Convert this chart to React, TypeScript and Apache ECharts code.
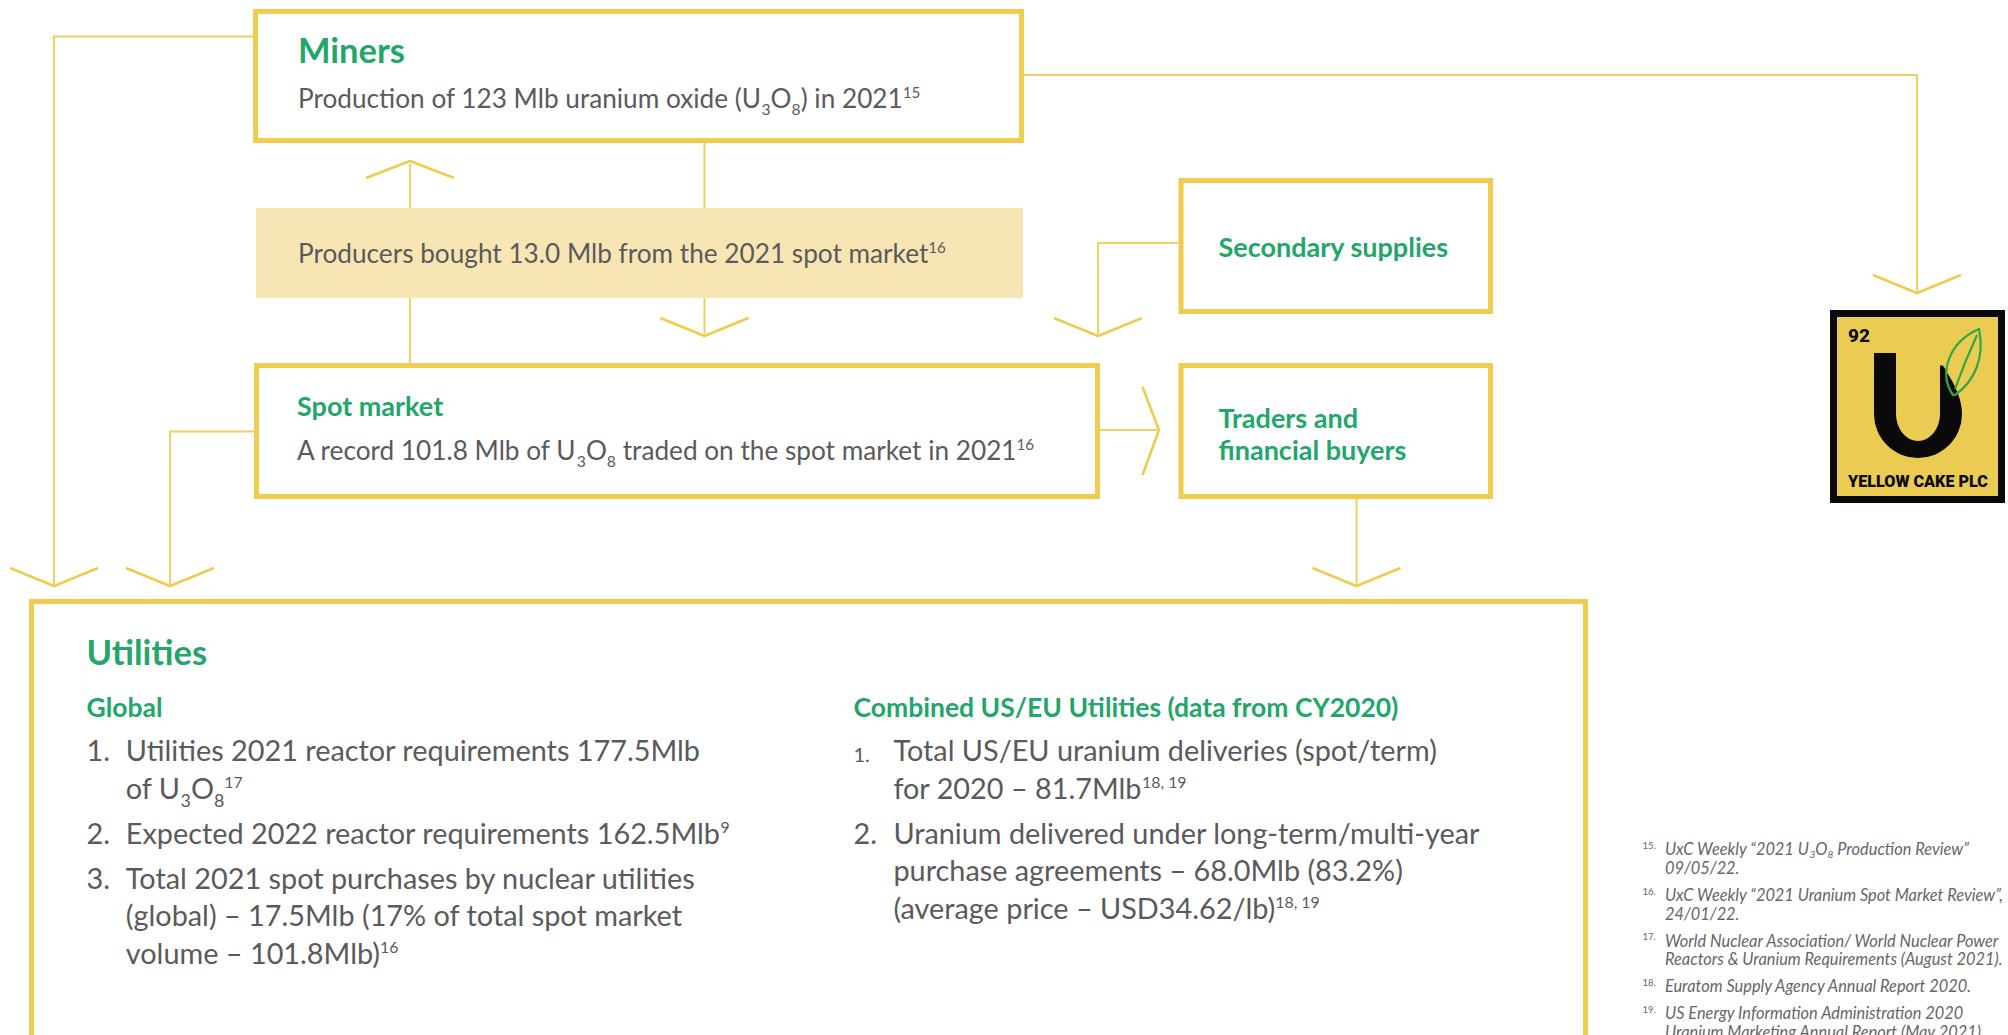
import React, { useEffect, useRef } from 'react';
import * as echarts from 'echarts';

type Kind = 'n' | 'sup' | 'sub';
type Run = [string, Kind?];

// ---------- content ----------
const minersTitle = 'Miners';
const minersText: Run[] = [['Production of 123 Mlb uranium oxide (U'], ['3', 'sub'], ['O'], ['8', 'sub'], [') in 2021'], ['15', 'sup']];
const producersText: Run[] = [['Producers bought 13.0 Mlb from the 2021 spot market'], ['16', 'sup']];
const secondaryTitle = 'Secondary supplies';
const spotTitle = 'Spot market';
const spotText: Run[] = [['A record 101.8 Mlb of U'], ['3', 'sub'], ['O'], ['8', 'sub'], [' traded on the spot market in 2021'], ['16', 'sup']];
const tradersTitle = ['Traders and', 'financial buyers'];
const utilitiesTitle = 'Utilities';
const globalTitle = 'Global';
const globalNumbers = ['1.', '2.', '3.'];
const globalItems: Run[][][] = [
  [[['Utilities 2021 reactor requirements 177.5Mlb']], [['of U'], ['3', 'sub'], ['O'], ['8', 'sub'], ['17', 'sup']]],
  [[['Expected 2022 reactor requirements 162.5Mlb'], ['9', 'sup']]],
  [[['Total 2021 spot purchases by nuclear utilities']], [['(global) – 17.5Mlb (17% of total spot market']], [['volume – 101.8Mlb)'], ['16', 'sup']]],
];
const combinedTitle = 'Combined US/EU Utilities (data from CY2020)';
const combinedNumbers = ['1.', '2.'];
const combinedItems: Run[][][] = [
  [[['Total US/EU uranium deliveries (spot/term)']], [['for 2020 – 81.7Mlb'], ['18, 19', 'sup']]],
  [[['Uranium delivered under long-term/multi-year']], [['purchase agreements – 68.0Mlb (83.2%)']], [['(average price – USD34.62/lb)'], ['18, 19', 'sup']]],
];
const footnoteNumbers = ['15.', '16.', '17.', '18.', '19.'];
const footnotes: Run[][][] = [
  [[['UxC Weekly “2021 U'], ['3', 'sub'], ['O'], ['8', 'sub'], [' Production Review”']], [['09/05/22.']]],
  [[['UxC Weekly “2021 Uranium Spot Market Review”,']], [['24/01/22.']]],
  [[['World Nuclear Association/ World Nuclear Power']], [['Reactors & Uranium Requirements (August 2021).']]],
  [[['Euratom Supply Agency Annual Report 2020.']]],
  [[['US Energy Information Administration 2020']], [['Uranium Marketing Annual Report (May 2021).']]],
];
const logoNumber = '92';
const logoName = 'YELLOW CAKE PLC';

// ---------- style ----------
const W = 2008;
const H = 1035;
const FONT = 'Lato';
const YELLOW = '#EFCB4E';
const LINE = '#F0D061';
const SHADE = '#F7E6B4';
const GREEN = '#22A66A';
const GRAY = '#5A5A5C';
const NOTE = '#666666';
const LOGO_Y = '#ECCB52';
const BASE_K = 0.4;

let mctx: CanvasRenderingContext2D | null = null;
function measure(text: string, font: string): number {
  if (!mctx) mctx = document.createElement('canvas').getContext('2d');
  if (!mctx) return text.length * 10;
  mctx.font = font;
  return mctx.measureText(text).width;
}

type TOpt = { size: number; weight?: number | string; italic?: boolean; color: string; family?: string };

function fontStr(size: number, o: { weight?: number | string; italic?: boolean; family?: string }) {
  return `${o.italic ? 'italic ' : ''}${o.weight || 400} ${size}px ${o.family || FONT}`;
}

function textEl(x: number, baseline: number, text: string, size: number, o: TOpt, extra: any = {}) {
  return {
    type: 'text',
    x,
    y: baseline - size * BASE_K,
    z: 10,
    silent: true,
    ...extra,
    style: {
      text,
      fill: o.color,
      fontSize: size,
      fontFamily: o.family || FONT,
      fontWeight: o.weight || 400,
      fontStyle: o.italic ? 'italic' : 'normal',
      textAlign: 'left',
      textVerticalAlign: 'middle',
      align: 'left',
      verticalAlign: 'middle',
    },
  };
}

function line(x: number, baseline: number, runs: Run[], o: TOpt, supK = 0.58, supRise = 0.38, subK = 0.6, subDrop = 0.24) {
  const els: any[] = [];
  let cx = x;
  for (const [t, k] of runs) {
    let size = o.size;
    let b = baseline;
    if (k === 'sup') {
      size = o.size * supK;
      b = baseline - o.size * supRise;
    } else if (k === 'sub') {
      size = o.size * subK;
      b = baseline + o.size * subDrop;
    }
    els.push(textEl(cx, b, t, size, { ...o, size }));
    cx += measure(t, fontStr(size, o));
  }
  return els;
}

function rectBox(x1: number, y1: number, x2: number, y2: number, lw = 5) {
  return {
    type: 'rect',
    z: 5,
    silent: true,
    shape: { x: x1 + lw / 2, y: y1 + lw / 2, width: x2 - x1 - lw, height: y2 - y1 - lw },
    style: { fill: '#ffffff', stroke: YELLOW, lineWidth: lw },
  };
}

function poly(points: number[][], color = LINE, lw = 2, z = 1) {
  return { type: 'polyline', z, silent: true, shape: { points }, style: { stroke: color, lineWidth: lw, fill: null } };
}

function chevronDown(cx: number, apexY: number) {
  return poly([[cx - 44, apexY - 18], [cx, apexY], [cx + 44, apexY - 18]], YELLOW, 2.6, 2);
}

const U_PATH =
  'M0 0 L22 0 L22 61 A22 27 0 0 0 66 61 L66 13 Q69 10 72 18 Q88 42 88 61 A44 44 0 0 1 0 61 Z';
const LEAF_PATH = 'M8 66 C-6 46 2 14 34 0 C40 28 30 52 10 66 Z M10 60 Q20 32 32 6';

let registered = false;
function registerShapes() {
  if (registered) return;
  registered = true;
  echarts.graphic.registerShape('logoU', echarts.graphic.extendPath(U_PATH, {}) as any);
  echarts.graphic.registerShape('logoLeaf', echarts.graphic.extendPath(LEAF_PATH, {}) as any);
}

function buildElements() {
  const els: any[] = [];
  const bodySize = 25 * 1.048;
  const itemSize = 27.5 * 1.049;
  const noteSize = 16 * 1.023;
  const body: TOpt = { size: bodySize, color: GRAY };
  const bold = (size: number): TOpt => ({ size, weight: 700, color: GREEN });

  // connectors
  els.push(poly([[253, 36.5], [54, 36.5], [54, 584]]));
  els.push(chevronDown(54, 586));
  els.push(poly([[1024, 75], [1917, 75], [1917, 291]]));
  els.push(chevronDown(1917, 293));
  els.push(poly([[410, 164], [410, 363]]));
  els.push(poly([[366, 178], [410, 161], [454, 178]], YELLOW, 2.6, 2));
  els.push(poly([[704.5, 143], [704.5, 334]]));
  els.push(chevronDown(704.5, 336));
  els.push(poly([[1178, 243], [1098, 243], [1098, 334]]));
  els.push(chevronDown(1098, 336));
  els.push(poly([[254, 431.5], [170, 431.5], [170, 584]]));
  els.push(chevronDown(170, 586));
  els.push(poly([[1100, 430], [1157, 430]]));
  els.push(poly([[1142.5, 387], [1159, 430], [1142.5, 475]], YELLOW, 2.6, 2));
  els.push(poly([[1356.5, 499], [1356.5, 584]]));
  els.push(chevronDown(1356.5, 586));

  // boxes
  els.push(rectBox(253, 9, 1024, 143));
  els.push({ type: 'rect', z: 5, silent: true, shape: { x: 256, y: 208, width: 767, height: 90 }, style: { fill: SHADE } });
  els.push(rectBox(1178.5, 178, 1493, 314));
  els.push(rectBox(254, 363, 1100, 499));
  els.push(rectBox(1178.5, 363, 1493, 499));
  els.push(rectBox(29, 599, 1588, 1120));

  // box texts
  els.push(textEl(298, 63, minersTitle, 34.5, bold(34.5)));
  els.push(...line(298, 108, minersText, body));
  els.push(...line(298, 263, producersText, body));
  els.push(textEl(1218.5, 257, secondaryTitle, 27, bold(27)));
  els.push(textEl(297, 416, spotTitle, 27, bold(27)));
  els.push(...line(297, 460, spotText, body));
  tradersTitle.forEach((t, i) => els.push(textEl(1218.5, 428 + i * 32.5, t, 27, bold(27))));

  // utilities
  els.push(textEl(86.5, 665, utilitiesTitle, 34.5, bold(34.5)));
  els.push(textEl(86.5, 718, globalTitle, 26.5, bold(26.5)));
  els.push(textEl(853.5, 718, combinedTitle, 26.5, bold(26.5)));
  const item: TOpt = { size: itemSize, color: GRAY };
  const LH = 37.5;
  const GAP = 7.5;
  let y = 762;
  globalItems.forEach((lines, i) => {
    els.push(textEl(86.5, y, globalNumbers[i], itemSize, item));
    lines.forEach((runs) => {
      els.push(...line(125.8, y, runs, item, 0.55, 0.4, 0.62, 0.26));
      y += LH;
    });
    y += GAP;
  });
  y = 762;
  combinedItems.forEach((lines, i) => {
    const ns = i === 0 ? 20 : itemSize;
    els.push(textEl(853.5, y, combinedNumbers[i], ns, { ...item, size: ns }));
    lines.forEach((runs) => {
      els.push(...line(893.4, y, runs, item, 0.55, 0.4));
      y += LH;
    });
    y += GAP;
  });

  // footnotes
  const note: TOpt = { size: noteSize, italic: true, color: NOTE };
  let fy = 855;
  footnotes.forEach((lines, i) => {
    els.push(textEl(1642.5, fy - 6, footnoteNumbers[i], 9.5, { size: 9.5, color: NOTE }));
    lines.forEach((runs) => {
      els.push(...line(1665, fy, runs, note, 0.6, 0.38, 0.62, 0.2));
      fy += 18.8;
    });
    fy += 8.2;
  });

  // logo
  els.push({ type: 'rect', z: 5, silent: true, shape: { x: 1830, y: 310, width: 175, height: 193 }, style: { fill: '#0a0a0a' } });
  els.push({ type: 'rect', z: 6, silent: true, shape: { x: 1837, y: 317, width: 161, height: 179 }, style: { fill: LOGO_Y } });
  els.push({ type: 'logoU', z: 7, silent: true, x: 1874, y: 353, style: { fill: '#0a0a0a' } });
  els.push({ type: 'logoLeaf', z: 7, silent: true, x: 1945, y: 329, style: { fill: null, stroke: '#2DA84A', lineWidth: 2.2 } });
  const numO: TOpt = { size: 19, weight: 800, color: '#0a0a0a', family: 'Roboto' };
  els.push(textEl(1848, 343, logoNumber, 19, numO));
  const nameO: TOpt = { size: 17, weight: 900, color: '#0a0a0a', family: 'Roboto' };
  const nw = measure(logoName, fontStr(17, nameO));
  els.push(textEl(1848, 488, logoName, 17, nameO, { scaleX: 140 / nw }));

  return els;
}

export default function App() {
  const ref = useRef<HTMLDivElement>(null);
  useEffect(() => {
    document.body.style.margin = '0';
    document.body.style.overflow = 'hidden';
    registerShapes();
    const chart = echarts.init(ref.current as HTMLDivElement, undefined, { renderer: 'svg', width: W, height: H });
    chart.setOption({
      animation: false,
      backgroundColor: '#ffffff',
      graphic: { elements: buildElements() },
    });
    return () => chart.dispose();
  }, []);
  return <div ref={ref} style={{ width: W, height: H, background: '#fff' }} />;
}
